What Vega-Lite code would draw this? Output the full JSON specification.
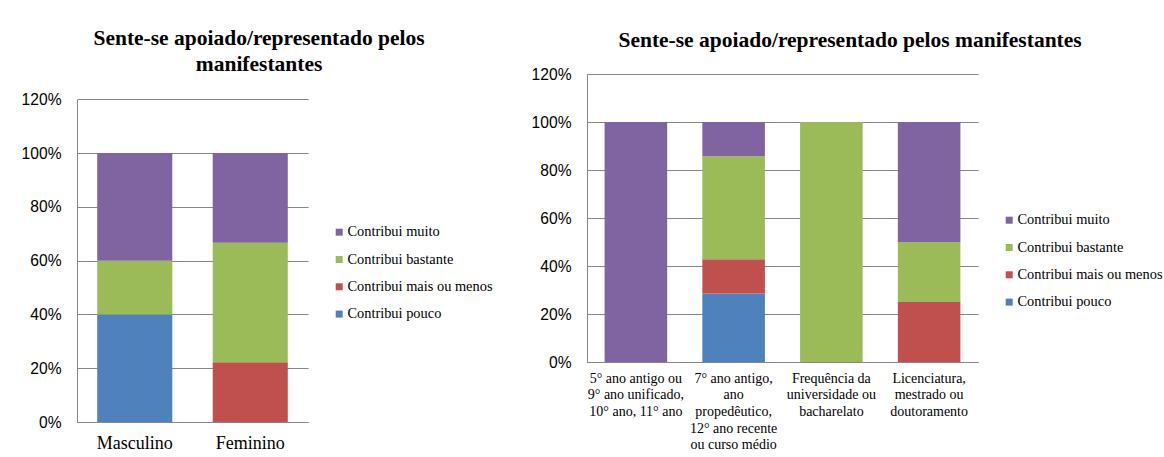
{
  "$schema": "https://vega.github.io/schema/vega-lite/v6.json",
  "background": "white",
  "padding": {"left": 21, "top": 27, "right": 0, "bottom": 0},
  "spacing": 38,
  "datasets": {
    "genero": [
      {"categoria": "Masculino", "resposta": "Contribui pouco", "ordem": 1, "valor": 0.40},
      {"categoria": "Masculino", "resposta": "Contribui bastante", "ordem": 3, "valor": 0.20},
      {"categoria": "Masculino", "resposta": "Contribui muito", "ordem": 4, "valor": 0.40},
      {"categoria": "Feminino", "resposta": "Contribui mais ou menos", "ordem": 2, "valor": 0.2222},
      {"categoria": "Feminino", "resposta": "Contribui bastante", "ordem": 3, "valor": 0.4444},
      {"categoria": "Feminino", "resposta": "Contribui muito", "ordem": 4, "valor": 0.3334}
    ],
    "escolaridade": [
      {"categoria": "5° ano antigo ou 9° ano unificado, 10° ano, 11° ano", "resposta": "Contribui muito", "ordem": 4, "valor": 1.0},
      {"categoria": "7° ano antigo, ano propedêutico, 12° ano recente ou curso médio", "resposta": "Contribui pouco", "ordem": 1, "valor": 0.2857},
      {"categoria": "7° ano antigo, ano propedêutico, 12° ano recente ou curso médio", "resposta": "Contribui mais ou menos", "ordem": 2, "valor": 0.1429},
      {"categoria": "7° ano antigo, ano propedêutico, 12° ano recente ou curso médio", "resposta": "Contribui bastante", "ordem": 3, "valor": 0.4286},
      {"categoria": "7° ano antigo, ano propedêutico, 12° ano recente ou curso médio", "resposta": "Contribui muito", "ordem": 4, "valor": 0.1428},
      {"categoria": "Frequência da universidade ou bacharelato", "resposta": "Contribui bastante", "ordem": 3, "valor": 1.0},
      {"categoria": "Licenciatura, mestrado ou doutoramento", "resposta": "Contribui mais ou menos", "ordem": 2, "valor": 0.25},
      {"categoria": "Licenciatura, mestrado ou doutoramento", "resposta": "Contribui bastante", "ordem": 3, "valor": 0.25},
      {"categoria": "Licenciatura, mestrado ou doutoramento", "resposta": "Contribui muito", "ordem": 4, "valor": 0.50}
    ]
  },
  "hconcat": [
    {
      "data": {"name": "genero"},
      "width": 231,
      "height": 348,
      "title": {"text": ["Sente-se apoiado/representado pelos", "manifestantes"], "offset": -2, "dx": 2},
      "mark": {"type": "bar"},
      "encoding": {
        "x": {
          "field": "categoria", "type": "nominal", "sort": null,
          "scale": {"paddingInner": 0.35, "paddingOuter": 0.175},
          "axis": {"title": null, "labelAngle": 0, "ticks": false, "domainColor": "#868686", "labelFont": "Liberation Serif", "labelFontSize": 18, "labelColor": "black", "labelPadding": 12, "grid": false}
        },
        "y": {
          "field": "valor", "type": "quantitative", "stack": "zero",
          "scale": {"domain": [0, 1.294], "nice": false},
          "axis": {"title": null, "values": [0, 0.2, 0.4, 0.6, 0.8, 1.0, 1.2], "format": ".0%", "grid": true, "gridColor": "#868686", "ticks": false, "domainColor": "#868686", "domainDash": [322.6, 25.4], "labelFont": "Liberation Sans", "labelFontSize": 15.6, "labelPadding": 16, "labelColor": "black"}
        },
        "color": {
          "field": "resposta", "type": "nominal",
          "scale": {"domain": ["Contribui muito", "Contribui bastante", "Contribui mais ou menos", "Contribui pouco"], "range": ["#8064A2", "#9BBB59", "#C0504D", "#4F81BD"]},
          "legend": {"orient": "none", "legendX": 255, "legendY": 151, "title": null, "symbolType": "square", "symbolSize": 49, "symbolStrokeWidth": 0, "labelFont": "Liberation Serif", "labelFontSize": 14.4, "labelColor": "black", "labelOffset": 1, "rowPadding": 12.3, "padding": 0, "labelLimit": 300}
        },
        "order": {"field": "ordem", "type": "quantitative"}
      }
    },
    {
      "data": {"name": "escolaridade"},
      "width": 391,
      "height": 288,
      "title": {"text": "Sente-se apoiado/representado pelos manifestantes", "offset": 16, "dx": 3},
      "mark": {"type": "bar"},
      "encoding": {
        "x": {
          "field": "categoria", "type": "nominal", "sort": null,
          "scale": {"paddingInner": 0.36, "paddingOuter": 0.18},
          "axis": {"title": null, "labelAngle": 0, "ticks": false, "domainColor": "#868686", "labelFont": "Liberation Serif", "labelFontSize": 14, "labelLineHeight": 16.7, "labelColor": "black", "labelPadding": 9, "labelOverlap": false, "labelLimit": 0, "grid": false,
            "labelExpr": "datum.value == '5° ano antigo ou 9° ano unificado, 10° ano, 11° ano' ? ['5° ano antigo ou', '9° ano unificado,', '10° ano, 11° ano'] : datum.value == '7° ano antigo, ano propedêutico, 12° ano recente ou curso médio' ? ['7° ano antigo,', 'ano', 'propedêutico,', '12° ano recente', 'ou curso médio'] : datum.value == 'Frequência da universidade ou bacharelato' ? ['Frequência da', 'universidade ou', 'bacharelato'] : ['Licenciatura,', 'mestrado ou', 'doutoramento']"}
        },
        "y": {
          "field": "valor", "type": "quantitative", "stack": "zero",
          "scale": {"domain": [0, 1.2], "nice": false},
          "axis": {"title": null, "values": [0, 0.2, 0.4, 0.6, 0.8, 1.0, 1.2], "format": ".0%", "grid": true, "gridColor": "#868686", "ticks": false, "domainColor": "#868686", "labelFont": "Liberation Sans", "labelFontSize": 15.6, "labelPadding": 16, "labelColor": "black"}
        },
        "color": {
          "field": "resposta", "type": "nominal",
          "scale": {"domain": ["Contribui muito", "Contribui bastante", "Contribui mais ou menos", "Contribui pouco"], "range": ["#8064A2", "#9BBB59", "#C0504D", "#4F81BD"]},
          "legend": {"orient": "none", "legendX": 415, "legendY": 139, "title": null, "symbolType": "square", "symbolSize": 49, "symbolStrokeWidth": 0, "labelFont": "Liberation Serif", "labelFontSize": 14.4, "labelColor": "black", "labelOffset": 1, "rowPadding": 12.3, "padding": 0, "labelLimit": 300}
        },
        "order": {"field": "ordem", "type": "quantitative"}
      }
    }
  ],
  "resolve": {"scale": {"color": "independent", "x": "independent", "y": "independent"}, "legend": {"color": "independent"}},
  "config": {
    "view": {"stroke": null},
    "legend": {"labelFont": "Liberation Serif", "labelFontSize": 14.4, "labelColor": "black"},
    "title": {"font": "Liberation Serif", "fontSize": 21.5, "fontWeight": "bold", "color": "black", "anchor": "middle", "frame": "bounds", "lineHeight": 26.7}
  }
}
